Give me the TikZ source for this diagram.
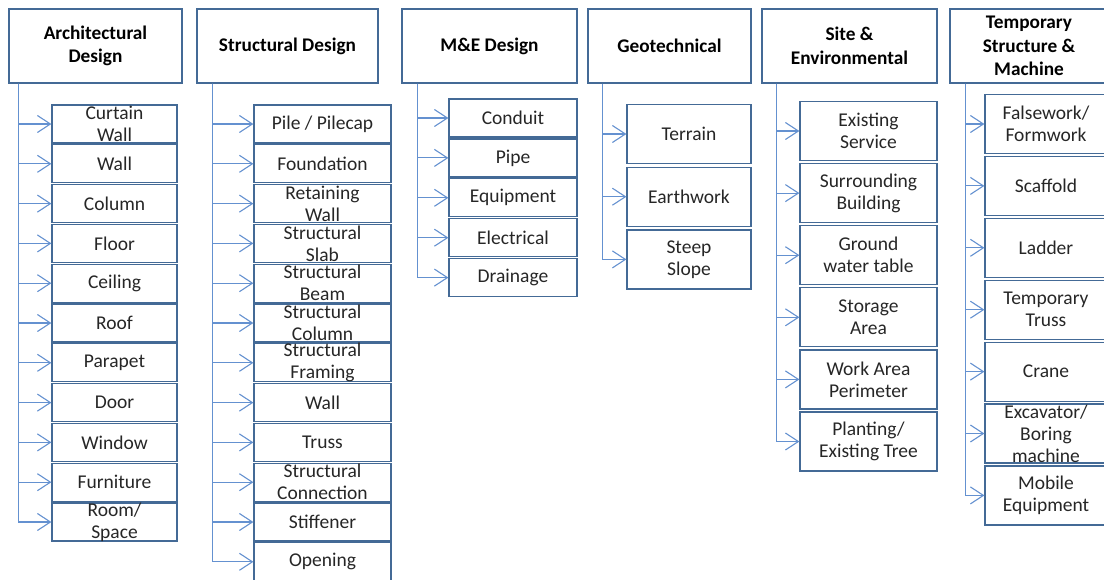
\documentclass[tikz,border=0pt]{standalone}
\usepackage{fontspec}
\setmainfont{Carlito}
\usetikzlibrary{arrows.meta}
\definecolor{boxc}{RGB}{68,106,150}
\definecolor{linkc}{RGB}{100,145,208}
\definecolor{txtc}{RGB}{38,38,38}
\tikzset{
  head/.style={draw=boxc, line width=1.2pt, minimum height=74pt, inner sep=0pt,
    align=center, text=black, font=\fontsize{19.3}{23.5}\selectfont\bfseries},
  item/.style={draw=boxc, line width=1.2pt, inner sep=0pt},
  txt/.style={align=center, text=txtc, inner sep=0pt, font=\fontsize{19.5}{22}\selectfont},
  link/.style={draw=linkc, line width=1.1pt, -{Straight Barb[length=13pt,width=17pt,line width=1.1pt]}}
}
\begin{document}
\begin{tikzpicture}[x=1pt,y=-1pt]
  \useasboundingbox (0,0) rectangle (1104,579);
  % headers
  \node[head, minimum width=173pt] (arch) at (95.5,46) {Architectural\\Design};
  \node[head, minimum width=181pt] (struc) at (287.5,46) {Structural Design};
  \node[head, minimum width=175pt] (mande) at (489.5,46) {M\&E Design};
  \node[head, minimum width=163pt] (geo) at (669.5,46) {Geotechnical};
  \node[head, minimum width=175pt] (site) at (849.5,46) {Site \&\\Environmental};
  \node[head, minimum width=158pt] (temp) at (1029,46) {Temporary\\Structure \&\\Machine};
  % architectural
  \foreach \t [count=\i] in {{Curtain\\Wall},Wall,Column,Floor,Ceiling,Roof,Parapet,Door,Window,Furniture,{Room/\\Space}} {
    \node[item, minimum width=125pt, minimum height=38pt] (arch\i) at (114.5,{124+39.8*(\i-1)}) {};
    \node[txt] at (arch\i) {\t};
    \draw[link] ([xshift=10pt]arch.south west) |- (arch\i.west);
  }
  % structural
  \foreach \t [count=\i] in {Pile / Pilecap,Foundation,{Retaining\\Wall},{Structural\\Slab},{Structural\\Beam},{Structural\\Column},{Structural\\Framing},Wall,Truss,{Structural\\Connection},Stiffener,Opening} {
    \node[item, minimum width=137pt, minimum height=38pt] (struc\i) at (322.5,{124+39.8*(\i-1)}) {};
    \node[txt] at (struc\i) {\t};
    \draw[link] ([xshift=16pt]struc.south west) |- (struc\i.west);
  }
  % m&e
  \foreach \t [count=\i] in {Conduit,Pipe,Equipment,Electrical,Drainage} {
    \node[item, minimum width=128pt, minimum height=38pt] (mande\i) at (513,{118+39.9*(\i-1)}) {};
    \node[txt] at (mande\i) {\t};
    \draw[link] ([xshift=16pt]mande.south west) |- (mande\i.west);
  }
  % geotechnical
  \foreach \t [count=\i] in {Terrain,Earthwork,{Steep\\Slope}} {
    \node[item, minimum width=124pt, minimum height=59pt] (geo\i) at (689,{134+62.7*(\i-1)}) {};
    \node[txt] at (geo\i) {\t};
    \draw[link] ([xshift=15pt]geo.south west) |- (geo\i.west);
  }
  % site
  \foreach \t [count=\i] in {{Existing\\Service},{Surrounding\\Building},{Ground\\water table},{Storage\\Area},{Work Area\\Perimeter},{Planting/\\Existing Tree}} {
    \node[item, minimum width=137pt, minimum height=59pt] (site\i) at (868.5,{131+62.1*(\i-1)}) {};
    \node[txt] at (site\i) {\t};
    \draw[link] ([xshift=15pt]site.south west) |- (site\i.west);
  }
  % temporary
  \foreach \t [count=\i] in {{Falsework/\\Formwork},Scaffold,Ladder,{Temporary\\Truss},Crane,{Excavator/\\Boring\\machine},{Mobile\\Equipment}} {
    \node[item, minimum width=122pt, minimum height=59pt] (temp\i) at (1046,{124+61.9*(\i-1)}) {};
    \node[txt] at (temp\i) {\t};
    \draw[link] ([xshift=16pt]temp.south west) |- (temp\i.west);
  }
\end{tikzpicture}
\end{document}
